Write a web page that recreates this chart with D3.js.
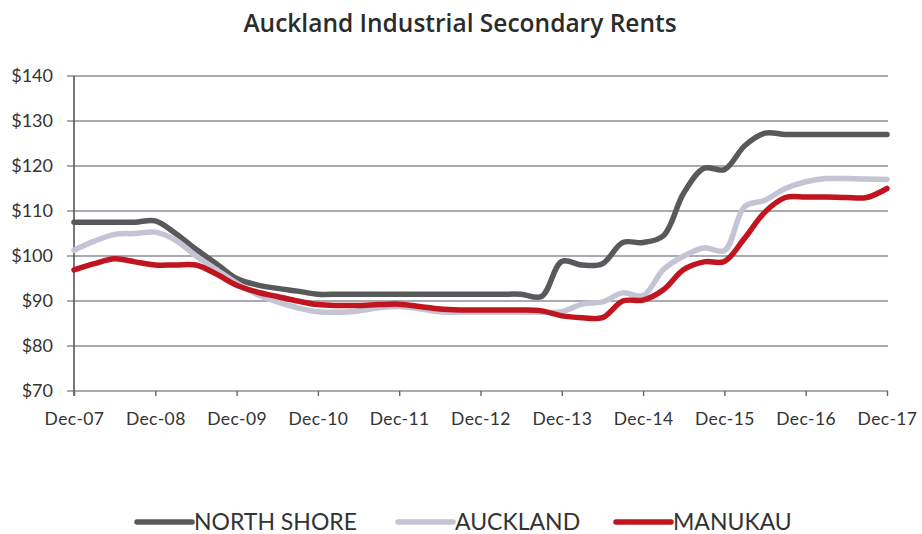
<!DOCTYPE html>
<html>
<head>
<meta charset="utf-8">
<script src="https://cdn.jsdelivr.net/npm/d3@7"></script>
<style>
  html, body { margin: 0; padding: 0; background: #fff; }
  svg { display: block; }
</style>
</head>
<body>
<svg id="chart" width="922" height="534"></svg>
<script>
// ---- Data (quarterly, Dec-07 .. Dec-17) ----
const yearLabels = ["Dec-07","Dec-08","Dec-09","Dec-10","Dec-11","Dec-12","Dec-13","Dec-14","Dec-15","Dec-16","Dec-17"];
const yTicks = [70, 80, 90, 100, 110, 120, 130, 140];
const seriesNames = ["NORTH SHORE", "AUCKLAND", "MANUKAU"];

const northShore = [
  107.5, 107.5, 107.5, 107.5, 107.8, 105, 101.5, 98.3, 95,
  93.6, 92.8, 92.2, 91.5, 91.5, 91.5, 91.5, 91.5, 91.5, 91.5, 91.5,
  91.5, 91.5, 91.5, 91, 98.8, 98, 98.3, 103, 103, 104.5,
  114, 119.5, 119.2, 124.5, 127.3, 127, 127, 127, 127, 127, 127
];
const auckland = [
  101.3, 103.3, 104.8, 105, 105.3, 103.5, 100, 97, 94,
  91.5, 89.8, 88.5, 87.6, 87.5, 87.8, 88.5, 88.8, 88.3, 87.6, 87.5,
  87.5, 87.5, 87.5, 87.5, 87.6, 89.3, 89.8, 91.8, 91.2, 97,
  100, 101.8, 101.2, 111, 112.4, 115, 116.5, 117.2, 117.2, 117.1, 117
];
const manukau = [
  96.9, 98.3, 99.4, 98.7, 98, 98, 98, 96, 93.5,
  92, 91, 90, 89.2, 89, 89, 89.2, 89.3, 88.8, 88.2, 88,
  88, 88, 88, 87.8, 86.7, 86.3, 86.3, 90, 90.2, 92.5,
  97, 98.7, 98.8, 104, 109.8, 113, 113.1, 113.1, 113, 113, 115
];
const seriesColors = ["#58595b", "#c4c4d4", "#c0141e"];

// ---- Layout ----
const svg = d3.select("#chart");
const mLeft = 74, mRight = 887, mTop = 76, mBottom = 391;

const x = d3.scaleLinear().domain([0, 40]).range([mLeft, mRight]);
const y = d3.scaleLinear().domain([70, 140]).range([mBottom, mTop]);

// Title
svg.append("text")
  .attr("x", 460).attr("y", 32)
  .attr("text-anchor", "middle")
  .attr("font-family", "'Open Sans', sans-serif")
  .attr("font-weight", 600)
  .attr("font-size", 24.5)
  .attr("fill", "#2b2b2b")
  .text("Auckland Industrial Secondary Rents");

// Gridlines
const grid = svg.append("g");
grid.selectAll("line").data(yTicks).join("line")
  .attr("x1", mLeft - 7).attr("x2", mRight + 1)
  .attr("y1", d => y(d)).attr("y2", d => y(d))
  .attr("stroke", "#8e8e98").attr("stroke-width", 1.4);

// Y axis labels
const yAxis = d3.axisLeft(y).tickValues(yTicks).tickFormat(d => "$" + d).tickSize(0).tickPadding(21);
const gy = svg.append("g").attr("transform", `translate(${mLeft},0)`).call(yAxis);
gy.select(".domain").remove();
gy.selectAll("text")
  .attr("font-family", "Lato, sans-serif")
  .attr("font-size", 18)
  .attr("fill", "#333");

// Left axis line
svg.append("line")
  .attr("x1", mLeft).attr("x2", mLeft)
  .attr("y1", mTop).attr("y2", mBottom + 5)
  .attr("stroke", "#555").attr("stroke-width", 1.6);

// X axis ticks and labels
const xAxis = d3.axisBottom(x)
  .tickValues(d3.range(0, 41, 4))
  .tickFormat((d, i) => yearLabels[i])
  .tickSize(5).tickPadding(17);
const gx = svg.append("g").attr("transform", `translate(0,${mBottom})`).call(xAxis);
gx.select(".domain").remove();
gx.selectAll("line").attr("stroke", "#666").attr("stroke-width", 1.4);
gx.selectAll("text")
  .attr("font-family", "Lato, sans-serif")
  .attr("font-size", 17.5)
  .attr("letter-spacing", 0.4)
  .attr("fill", "#333");

// Lines
const line = d3.line()
  .x((d, i) => x(i))
  .y(d => y(d))
  .curve(d3.curveCatmullRom.alpha(0.5));

[northShore, auckland, manukau].forEach((s, k) => {
  svg.append("path")
    .datum(s)
    .attr("d", line)
    .attr("fill", "none")
    .attr("stroke", seriesColors[k])
    .attr("stroke-width", 5.5)
    .attr("stroke-linejoin", "round")
    .attr("stroke-linecap", "round");
});

// Legend
const legendItems = [
  { name: seriesNames[0], color: seriesColors[0], x0: 137 },
  { name: seriesNames[1], color: seriesColors[1], x0: 398 },
  { name: seriesNames[2], color: seriesColors[2], x0: 616 }
];
const lg = svg.append("g");
legendItems.forEach(it => {
  lg.append("line")
    .attr("x1", it.x0).attr("x2", it.x0 + 55)
    .attr("y1", 522).attr("y2", 522)
    .attr("stroke", it.color).attr("stroke-width", 5.5)
    .attr("stroke-linecap", "round");
  lg.append("text")
    .attr("x", it.x0 + 57).attr("y", 530)
    .attr("font-family", "Lato, sans-serif")
    .attr("font-size", 23)
    .attr("fill", "#333")
    .text(it.name);
});
</script>
</body>
</html>
